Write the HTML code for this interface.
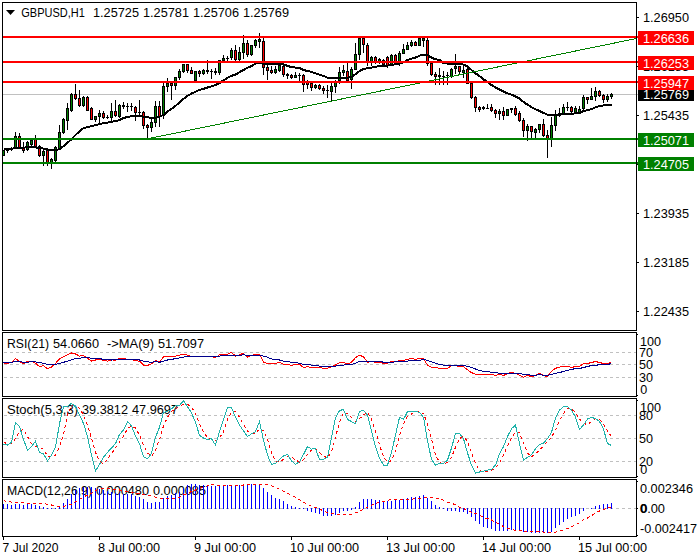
<!DOCTYPE html>
<html lang="en"><head><meta charset="utf-8"><title>GBPUSD,H1</title>
<style>html,body{margin:0;padding:0;background:#fff;}body{width:700px;height:560px;overflow:hidden;}svg{display:block;}text{font-family:"Liberation Sans",sans-serif;font-size:12.6px;fill:#000;}.w{fill:#fff;}</style></head><body>
<svg width="700" height="560" viewBox="0 0 700 560">
<rect width="700" height="560" fill="#fff"/>
<g shape-rendering="crispEdges">
<rect x="3" y="94" width="635" height="1" fill="#c0c0c0"/>
</g>
<g shape-rendering="crispEdges">
<rect x="3" y="150" width="1" height="6" fill="#000"/>
<rect x="2" y="150" width="3" height="6" fill="#000"/>
<rect x="3" y="151" width="1" height="4" fill="#008000"/>
<rect x="7" y="149" width="1" height="4" fill="#000"/>
<rect x="6" y="150" width="3" height="1" fill="#000"/>
<rect x="11" y="147" width="1" height="4" fill="#000"/>
<rect x="10" y="148" width="3" height="2" fill="#000"/>
<rect x="15" y="132" width="1" height="17" fill="#000"/>
<rect x="14" y="136" width="3" height="13" fill="#000"/>
<rect x="15" y="137" width="1" height="11" fill="#008000"/>
<rect x="19" y="133" width="1" height="16" fill="#000"/>
<rect x="18" y="136" width="3" height="12" fill="#000"/>
<rect x="19" y="137" width="1" height="10" fill="#ff0000"/>
<rect x="23" y="142" width="1" height="11" fill="#000"/>
<rect x="22" y="147" width="3" height="4" fill="#000"/>
<rect x="23" y="148" width="1" height="2" fill="#ff0000"/>
<rect x="27" y="141" width="1" height="10" fill="#000"/>
<rect x="26" y="142" width="3" height="8" fill="#000"/>
<rect x="27" y="143" width="1" height="6" fill="#008000"/>
<rect x="31" y="140" width="1" height="7" fill="#000"/>
<rect x="30" y="140" width="3" height="5" fill="#000"/>
<rect x="31" y="141" width="1" height="3" fill="#008000"/>
<rect x="35" y="135" width="1" height="13" fill="#000"/>
<rect x="34" y="139" width="3" height="9" fill="#000"/>
<rect x="35" y="140" width="1" height="7" fill="#ff0000"/>
<rect x="39" y="145" width="1" height="12" fill="#000"/>
<rect x="38" y="146" width="3" height="10" fill="#000"/>
<rect x="39" y="147" width="1" height="8" fill="#ff0000"/>
<rect x="43" y="150" width="1" height="16" fill="#000"/>
<rect x="42" y="151" width="3" height="5" fill="#000"/>
<rect x="43" y="152" width="1" height="3" fill="#008000"/>
<rect x="47" y="150" width="1" height="16" fill="#000"/>
<rect x="46" y="150" width="3" height="13" fill="#000"/>
<rect x="47" y="151" width="1" height="11" fill="#ff0000"/>
<rect x="51" y="158" width="1" height="11" fill="#000"/>
<rect x="50" y="159" width="3" height="4" fill="#000"/>
<rect x="51" y="160" width="1" height="2" fill="#008000"/>
<rect x="55" y="146" width="1" height="16" fill="#000"/>
<rect x="54" y="147" width="3" height="14" fill="#000"/>
<rect x="55" y="148" width="1" height="12" fill="#008000"/>
<rect x="59" y="125" width="1" height="24" fill="#000"/>
<rect x="58" y="132" width="3" height="17" fill="#000"/>
<rect x="59" y="133" width="1" height="15" fill="#008000"/>
<rect x="63" y="118" width="1" height="16" fill="#000"/>
<rect x="62" y="119" width="3" height="14" fill="#000"/>
<rect x="63" y="120" width="1" height="12" fill="#008000"/>
<rect x="67" y="103" width="1" height="27" fill="#000"/>
<rect x="66" y="108" width="3" height="13" fill="#000"/>
<rect x="67" y="109" width="1" height="11" fill="#008000"/>
<rect x="71" y="93" width="1" height="19" fill="#000"/>
<rect x="70" y="94" width="3" height="17" fill="#000"/>
<rect x="71" y="95" width="1" height="15" fill="#008000"/>
<rect x="75" y="84" width="1" height="16" fill="#000"/>
<rect x="74" y="94" width="3" height="5" fill="#000"/>
<rect x="75" y="95" width="1" height="3" fill="#ff0000"/>
<rect x="79" y="90" width="1" height="17" fill="#000"/>
<rect x="78" y="98" width="3" height="8" fill="#000"/>
<rect x="79" y="99" width="1" height="6" fill="#ff0000"/>
<rect x="83" y="96" width="1" height="11" fill="#000"/>
<rect x="82" y="97" width="3" height="9" fill="#000"/>
<rect x="83" y="98" width="1" height="7" fill="#008000"/>
<rect x="87" y="96" width="1" height="15" fill="#000"/>
<rect x="86" y="97" width="3" height="14" fill="#000"/>
<rect x="87" y="98" width="1" height="12" fill="#ff0000"/>
<rect x="91" y="107" width="1" height="13" fill="#000"/>
<rect x="90" y="108" width="3" height="12" fill="#000"/>
<rect x="91" y="109" width="1" height="10" fill="#ff0000"/>
<rect x="95" y="116" width="1" height="6" fill="#000"/>
<rect x="94" y="116" width="3" height="4" fill="#000"/>
<rect x="95" y="117" width="1" height="2" fill="#008000"/>
<rect x="99" y="110" width="1" height="14" fill="#000"/>
<rect x="98" y="113" width="3" height="4" fill="#000"/>
<rect x="99" y="114" width="1" height="2" fill="#008000"/>
<rect x="103" y="111" width="1" height="8" fill="#000"/>
<rect x="102" y="113" width="3" height="5" fill="#000"/>
<rect x="103" y="114" width="1" height="3" fill="#ff0000"/>
<rect x="107" y="115" width="1" height="4" fill="#000"/>
<rect x="106" y="117" width="3" height="1" fill="#000"/>
<rect x="111" y="103" width="1" height="18" fill="#000"/>
<rect x="110" y="111" width="3" height="7" fill="#000"/>
<rect x="111" y="112" width="1" height="5" fill="#008000"/>
<rect x="115" y="100" width="1" height="17" fill="#000"/>
<rect x="114" y="111" width="3" height="5" fill="#000"/>
<rect x="115" y="112" width="1" height="3" fill="#ff0000"/>
<rect x="119" y="104" width="1" height="14" fill="#000"/>
<rect x="118" y="105" width="3" height="12" fill="#000"/>
<rect x="119" y="106" width="1" height="10" fill="#008000"/>
<rect x="123" y="102" width="1" height="7" fill="#000"/>
<rect x="122" y="105" width="3" height="2" fill="#000"/>
<rect x="127" y="103" width="1" height="9" fill="#000"/>
<rect x="126" y="106" width="3" height="1" fill="#000"/>
<rect x="131" y="103" width="1" height="8" fill="#000"/>
<rect x="130" y="106" width="3" height="1" fill="#000"/>
<rect x="135" y="106" width="1" height="15" fill="#000"/>
<rect x="134" y="107" width="3" height="6" fill="#000"/>
<rect x="135" y="108" width="1" height="4" fill="#ff0000"/>
<rect x="139" y="100" width="1" height="16" fill="#000"/>
<rect x="138" y="112" width="3" height="1" fill="#000"/>
<rect x="143" y="111" width="1" height="18" fill="#000"/>
<rect x="142" y="112" width="3" height="14" fill="#000"/>
<rect x="143" y="113" width="1" height="12" fill="#ff0000"/>
<rect x="147" y="124" width="1" height="14" fill="#000"/>
<rect x="146" y="125" width="3" height="3" fill="#000"/>
<rect x="147" y="126" width="1" height="1" fill="#ff0000"/>
<rect x="151" y="119" width="1" height="13" fill="#000"/>
<rect x="150" y="122" width="3" height="6" fill="#000"/>
<rect x="151" y="123" width="1" height="4" fill="#008000"/>
<rect x="155" y="101" width="1" height="26" fill="#000"/>
<rect x="154" y="106" width="3" height="17" fill="#000"/>
<rect x="155" y="107" width="1" height="15" fill="#008000"/>
<rect x="159" y="101" width="1" height="26" fill="#000"/>
<rect x="158" y="106" width="3" height="11" fill="#000"/>
<rect x="159" y="107" width="1" height="9" fill="#ff0000"/>
<rect x="163" y="83" width="1" height="36" fill="#000"/>
<rect x="162" y="86" width="3" height="30" fill="#000"/>
<rect x="163" y="87" width="1" height="28" fill="#008000"/>
<rect x="167" y="78" width="1" height="14" fill="#000"/>
<rect x="166" y="83" width="3" height="4" fill="#000"/>
<rect x="167" y="84" width="1" height="2" fill="#008000"/>
<rect x="171" y="82" width="1" height="18" fill="#000"/>
<rect x="170" y="83" width="3" height="3" fill="#000"/>
<rect x="171" y="84" width="1" height="1" fill="#ff0000"/>
<rect x="175" y="77" width="1" height="13" fill="#000"/>
<rect x="174" y="77" width="3" height="9" fill="#000"/>
<rect x="175" y="78" width="1" height="7" fill="#008000"/>
<rect x="179" y="69" width="1" height="11" fill="#000"/>
<rect x="178" y="71" width="3" height="7" fill="#000"/>
<rect x="179" y="72" width="1" height="5" fill="#008000"/>
<rect x="183" y="64" width="1" height="9" fill="#000"/>
<rect x="182" y="64" width="3" height="8" fill="#000"/>
<rect x="183" y="65" width="1" height="6" fill="#008000"/>
<rect x="187" y="64" width="1" height="9" fill="#000"/>
<rect x="186" y="64" width="3" height="7" fill="#000"/>
<rect x="187" y="65" width="1" height="5" fill="#ff0000"/>
<rect x="191" y="67" width="1" height="7" fill="#000"/>
<rect x="190" y="70" width="3" height="4" fill="#000"/>
<rect x="191" y="71" width="1" height="2" fill="#ff0000"/>
<rect x="195" y="71" width="1" height="10" fill="#000"/>
<rect x="194" y="71" width="3" height="10" fill="#000"/>
<rect x="195" y="72" width="1" height="8" fill="#008000"/>
<rect x="199" y="70" width="1" height="7" fill="#000"/>
<rect x="198" y="71" width="3" height="3" fill="#000"/>
<rect x="199" y="72" width="1" height="1" fill="#ff0000"/>
<rect x="203" y="69" width="1" height="6" fill="#000"/>
<rect x="202" y="70" width="3" height="4" fill="#000"/>
<rect x="203" y="71" width="1" height="2" fill="#008000"/>
<rect x="207" y="60" width="1" height="14" fill="#000"/>
<rect x="206" y="70" width="3" height="2" fill="#000"/>
<rect x="211" y="69" width="1" height="10" fill="#000"/>
<rect x="210" y="71" width="3" height="1" fill="#000"/>
<rect x="215" y="68" width="1" height="7" fill="#000"/>
<rect x="214" y="71" width="3" height="2" fill="#000"/>
<rect x="219" y="60" width="1" height="15" fill="#000"/>
<rect x="218" y="60" width="3" height="13" fill="#000"/>
<rect x="219" y="61" width="1" height="11" fill="#008000"/>
<rect x="223" y="55" width="1" height="6" fill="#000"/>
<rect x="222" y="58" width="3" height="3" fill="#000"/>
<rect x="223" y="59" width="1" height="1" fill="#008000"/>
<rect x="227" y="56" width="1" height="5" fill="#000"/>
<rect x="226" y="58" width="3" height="1" fill="#000"/>
<rect x="231" y="48" width="1" height="12" fill="#000"/>
<rect x="230" y="50" width="3" height="8" fill="#000"/>
<rect x="231" y="51" width="1" height="6" fill="#008000"/>
<rect x="235" y="45" width="1" height="16" fill="#000"/>
<rect x="234" y="50" width="3" height="10" fill="#000"/>
<rect x="235" y="51" width="1" height="8" fill="#ff0000"/>
<rect x="239" y="47" width="1" height="14" fill="#000"/>
<rect x="238" y="52" width="3" height="8" fill="#000"/>
<rect x="239" y="53" width="1" height="6" fill="#008000"/>
<rect x="243" y="35" width="1" height="24" fill="#000"/>
<rect x="242" y="43" width="3" height="10" fill="#000"/>
<rect x="243" y="44" width="1" height="8" fill="#008000"/>
<rect x="247" y="40" width="1" height="17" fill="#000"/>
<rect x="246" y="43" width="3" height="12" fill="#000"/>
<rect x="247" y="44" width="1" height="10" fill="#ff0000"/>
<rect x="251" y="45" width="1" height="11" fill="#000"/>
<rect x="250" y="45" width="3" height="10" fill="#000"/>
<rect x="251" y="46" width="1" height="8" fill="#008000"/>
<rect x="255" y="39" width="1" height="9" fill="#000"/>
<rect x="254" y="40" width="3" height="6" fill="#000"/>
<rect x="255" y="41" width="1" height="4" fill="#008000"/>
<rect x="259" y="33" width="1" height="15" fill="#000"/>
<rect x="258" y="39" width="3" height="3" fill="#000"/>
<rect x="259" y="40" width="1" height="1" fill="#008000"/>
<rect x="263" y="38" width="1" height="37" fill="#000"/>
<rect x="262" y="41" width="3" height="27" fill="#000"/>
<rect x="263" y="42" width="1" height="25" fill="#ff0000"/>
<rect x="267" y="65" width="1" height="15" fill="#000"/>
<rect x="266" y="67" width="3" height="4" fill="#000"/>
<rect x="267" y="68" width="1" height="2" fill="#ff0000"/>
<rect x="271" y="66" width="1" height="8" fill="#000"/>
<rect x="270" y="70" width="3" height="3" fill="#000"/>
<rect x="271" y="71" width="1" height="1" fill="#ff0000"/>
<rect x="275" y="66" width="1" height="8" fill="#000"/>
<rect x="274" y="69" width="3" height="4" fill="#000"/>
<rect x="275" y="70" width="1" height="2" fill="#008000"/>
<rect x="279" y="64" width="1" height="8" fill="#000"/>
<rect x="278" y="65" width="3" height="6" fill="#000"/>
<rect x="279" y="66" width="1" height="4" fill="#008000"/>
<rect x="283" y="63" width="1" height="14" fill="#000"/>
<rect x="282" y="66" width="3" height="9" fill="#000"/>
<rect x="283" y="67" width="1" height="7" fill="#ff0000"/>
<rect x="287" y="73" width="1" height="6" fill="#000"/>
<rect x="286" y="74" width="3" height="2" fill="#000"/>
<rect x="291" y="74" width="1" height="5" fill="#000"/>
<rect x="290" y="75" width="3" height="3" fill="#000"/>
<rect x="291" y="76" width="1" height="1" fill="#ff0000"/>
<rect x="295" y="72" width="1" height="6" fill="#000"/>
<rect x="294" y="75" width="3" height="3" fill="#000"/>
<rect x="295" y="76" width="1" height="1" fill="#008000"/>
<rect x="299" y="73" width="1" height="8" fill="#000"/>
<rect x="298" y="75" width="3" height="1" fill="#000"/>
<rect x="303" y="74" width="1" height="18" fill="#000"/>
<rect x="302" y="75" width="3" height="10" fill="#000"/>
<rect x="303" y="76" width="1" height="8" fill="#ff0000"/>
<rect x="307" y="80" width="1" height="9" fill="#000"/>
<rect x="306" y="81" width="3" height="4" fill="#000"/>
<rect x="307" y="82" width="1" height="2" fill="#ff0000"/>
<rect x="311" y="82" width="1" height="9" fill="#000"/>
<rect x="310" y="83" width="3" height="5" fill="#000"/>
<rect x="311" y="84" width="1" height="3" fill="#ff0000"/>
<rect x="315" y="84" width="1" height="5" fill="#000"/>
<rect x="314" y="85" width="3" height="3" fill="#000"/>
<rect x="315" y="86" width="1" height="1" fill="#008000"/>
<rect x="319" y="84" width="1" height="6" fill="#000"/>
<rect x="318" y="85" width="3" height="4" fill="#000"/>
<rect x="319" y="86" width="1" height="2" fill="#ff0000"/>
<rect x="323" y="86" width="1" height="8" fill="#000"/>
<rect x="322" y="88" width="3" height="3" fill="#000"/>
<rect x="323" y="89" width="1" height="1" fill="#ff0000"/>
<rect x="327" y="85" width="1" height="13" fill="#000"/>
<rect x="326" y="90" width="3" height="1" fill="#000"/>
<rect x="331" y="83" width="1" height="18" fill="#000"/>
<rect x="330" y="86" width="3" height="6" fill="#000"/>
<rect x="331" y="87" width="1" height="4" fill="#008000"/>
<rect x="335" y="80" width="1" height="13" fill="#000"/>
<rect x="334" y="82" width="3" height="5" fill="#000"/>
<rect x="335" y="83" width="1" height="3" fill="#008000"/>
<rect x="339" y="67" width="1" height="17" fill="#000"/>
<rect x="338" y="72" width="3" height="9" fill="#000"/>
<rect x="339" y="73" width="1" height="7" fill="#008000"/>
<rect x="343" y="65" width="1" height="11" fill="#000"/>
<rect x="342" y="70" width="3" height="3" fill="#000"/>
<rect x="343" y="71" width="1" height="1" fill="#008000"/>
<rect x="347" y="63" width="1" height="19" fill="#000"/>
<rect x="346" y="71" width="3" height="10" fill="#000"/>
<rect x="347" y="72" width="1" height="8" fill="#ff0000"/>
<rect x="351" y="67" width="1" height="22" fill="#000"/>
<rect x="350" y="69" width="3" height="11" fill="#000"/>
<rect x="351" y="70" width="1" height="9" fill="#008000"/>
<rect x="355" y="43" width="1" height="27" fill="#000"/>
<rect x="354" y="54" width="3" height="16" fill="#000"/>
<rect x="355" y="55" width="1" height="14" fill="#008000"/>
<rect x="359" y="38" width="1" height="22" fill="#000"/>
<rect x="358" y="38" width="3" height="17" fill="#000"/>
<rect x="359" y="39" width="1" height="15" fill="#008000"/>
<rect x="363" y="38" width="1" height="15" fill="#000"/>
<rect x="362" y="38" width="3" height="7" fill="#000"/>
<rect x="363" y="39" width="1" height="5" fill="#ff0000"/>
<rect x="367" y="43" width="1" height="23" fill="#000"/>
<rect x="366" y="45" width="3" height="17" fill="#000"/>
<rect x="367" y="46" width="1" height="15" fill="#ff0000"/>
<rect x="371" y="56" width="1" height="10" fill="#000"/>
<rect x="370" y="57" width="3" height="5" fill="#000"/>
<rect x="371" y="58" width="1" height="3" fill="#008000"/>
<rect x="375" y="56" width="1" height="8" fill="#000"/>
<rect x="374" y="57" width="3" height="5" fill="#000"/>
<rect x="375" y="58" width="1" height="3" fill="#ff0000"/>
<rect x="379" y="58" width="1" height="6" fill="#000"/>
<rect x="378" y="59" width="3" height="3" fill="#000"/>
<rect x="379" y="60" width="1" height="1" fill="#008000"/>
<rect x="383" y="59" width="1" height="7" fill="#000"/>
<rect x="382" y="60" width="3" height="5" fill="#000"/>
<rect x="383" y="61" width="1" height="3" fill="#ff0000"/>
<rect x="387" y="56" width="1" height="12" fill="#000"/>
<rect x="386" y="57" width="3" height="9" fill="#000"/>
<rect x="387" y="58" width="1" height="7" fill="#ff0000"/>
<rect x="391" y="54" width="1" height="12" fill="#000"/>
<rect x="390" y="55" width="3" height="10" fill="#000"/>
<rect x="391" y="56" width="1" height="8" fill="#008000"/>
<rect x="395" y="54" width="1" height="11" fill="#000"/>
<rect x="394" y="55" width="3" height="9" fill="#000"/>
<rect x="395" y="56" width="1" height="7" fill="#ff0000"/>
<rect x="399" y="51" width="1" height="15" fill="#000"/>
<rect x="398" y="53" width="3" height="11" fill="#000"/>
<rect x="399" y="54" width="1" height="9" fill="#008000"/>
<rect x="403" y="44" width="1" height="10" fill="#000"/>
<rect x="402" y="49" width="3" height="5" fill="#000"/>
<rect x="403" y="50" width="1" height="3" fill="#008000"/>
<rect x="407" y="42" width="1" height="8" fill="#000"/>
<rect x="406" y="45" width="3" height="5" fill="#000"/>
<rect x="407" y="46" width="1" height="3" fill="#008000"/>
<rect x="411" y="40" width="1" height="7" fill="#000"/>
<rect x="410" y="42" width="3" height="4" fill="#000"/>
<rect x="411" y="43" width="1" height="2" fill="#008000"/>
<rect x="415" y="41" width="1" height="5" fill="#000"/>
<rect x="414" y="42" width="3" height="4" fill="#000"/>
<rect x="415" y="43" width="1" height="2" fill="#ff0000"/>
<rect x="419" y="38" width="1" height="8" fill="#000"/>
<rect x="418" y="38" width="3" height="8" fill="#000"/>
<rect x="419" y="39" width="1" height="6" fill="#008000"/>
<rect x="423" y="38" width="1" height="9" fill="#000"/>
<rect x="422" y="38" width="3" height="3" fill="#000"/>
<rect x="423" y="39" width="1" height="1" fill="#008000"/>
<rect x="427" y="38" width="1" height="28" fill="#000"/>
<rect x="426" y="40" width="3" height="24" fill="#000"/>
<rect x="427" y="41" width="1" height="22" fill="#ff0000"/>
<rect x="431" y="62" width="1" height="14" fill="#000"/>
<rect x="430" y="63" width="3" height="12" fill="#000"/>
<rect x="431" y="64" width="1" height="10" fill="#ff0000"/>
<rect x="435" y="72" width="1" height="13" fill="#000"/>
<rect x="434" y="74" width="3" height="3" fill="#000"/>
<rect x="435" y="75" width="1" height="1" fill="#ff0000"/>
<rect x="439" y="68" width="1" height="17" fill="#000"/>
<rect x="438" y="75" width="3" height="2" fill="#000"/>
<rect x="443" y="71" width="1" height="14" fill="#000"/>
<rect x="442" y="76" width="3" height="1" fill="#000"/>
<rect x="447" y="72" width="1" height="13" fill="#000"/>
<rect x="446" y="75" width="3" height="1" fill="#000"/>
<rect x="451" y="68" width="1" height="10" fill="#000"/>
<rect x="450" y="69" width="3" height="8" fill="#000"/>
<rect x="451" y="70" width="1" height="6" fill="#008000"/>
<rect x="455" y="54" width="1" height="20" fill="#000"/>
<rect x="454" y="66" width="3" height="3" fill="#000"/>
<rect x="455" y="67" width="1" height="1" fill="#008000"/>
<rect x="459" y="66" width="1" height="8" fill="#000"/>
<rect x="458" y="66" width="3" height="6" fill="#000"/>
<rect x="459" y="67" width="1" height="4" fill="#ff0000"/>
<rect x="463" y="66" width="1" height="12" fill="#000"/>
<rect x="462" y="70" width="3" height="3" fill="#000"/>
<rect x="463" y="71" width="1" height="1" fill="#008000"/>
<rect x="467" y="68" width="1" height="16" fill="#000"/>
<rect x="466" y="69" width="3" height="15" fill="#000"/>
<rect x="467" y="70" width="1" height="13" fill="#ff0000"/>
<rect x="471" y="83" width="1" height="16" fill="#000"/>
<rect x="470" y="83" width="3" height="15" fill="#000"/>
<rect x="471" y="84" width="1" height="13" fill="#ff0000"/>
<rect x="475" y="96" width="1" height="16" fill="#000"/>
<rect x="474" y="97" width="3" height="11" fill="#000"/>
<rect x="475" y="98" width="1" height="9" fill="#ff0000"/>
<rect x="479" y="106" width="1" height="6" fill="#000"/>
<rect x="478" y="107" width="3" height="3" fill="#000"/>
<rect x="479" y="108" width="1" height="1" fill="#ff0000"/>
<rect x="483" y="106" width="1" height="4" fill="#000"/>
<rect x="482" y="107" width="3" height="2" fill="#000"/>
<rect x="487" y="104" width="1" height="5" fill="#000"/>
<rect x="486" y="108" width="3" height="1" fill="#000"/>
<rect x="491" y="104" width="1" height="8" fill="#000"/>
<rect x="490" y="107" width="3" height="4" fill="#000"/>
<rect x="491" y="108" width="1" height="2" fill="#ff0000"/>
<rect x="495" y="109" width="1" height="9" fill="#000"/>
<rect x="494" y="110" width="3" height="4" fill="#000"/>
<rect x="495" y="111" width="1" height="2" fill="#ff0000"/>
<rect x="499" y="109" width="1" height="11" fill="#000"/>
<rect x="498" y="111" width="3" height="3" fill="#000"/>
<rect x="499" y="112" width="1" height="1" fill="#008000"/>
<rect x="503" y="107" width="1" height="13" fill="#000"/>
<rect x="502" y="111" width="3" height="5" fill="#000"/>
<rect x="503" y="112" width="1" height="3" fill="#ff0000"/>
<rect x="507" y="109" width="1" height="7" fill="#000"/>
<rect x="506" y="109" width="3" height="7" fill="#000"/>
<rect x="507" y="110" width="1" height="5" fill="#008000"/>
<rect x="511" y="108" width="1" height="5" fill="#000"/>
<rect x="510" y="108" width="3" height="2" fill="#000"/>
<rect x="515" y="106" width="1" height="10" fill="#000"/>
<rect x="514" y="108" width="3" height="7" fill="#000"/>
<rect x="515" y="109" width="1" height="5" fill="#ff0000"/>
<rect x="519" y="111" width="1" height="11" fill="#000"/>
<rect x="518" y="113" width="3" height="8" fill="#000"/>
<rect x="519" y="114" width="1" height="6" fill="#ff0000"/>
<rect x="523" y="118" width="1" height="19" fill="#000"/>
<rect x="522" y="120" width="3" height="11" fill="#000"/>
<rect x="523" y="121" width="1" height="9" fill="#ff0000"/>
<rect x="527" y="124" width="1" height="17" fill="#000"/>
<rect x="526" y="126" width="3" height="5" fill="#000"/>
<rect x="527" y="127" width="1" height="3" fill="#008000"/>
<rect x="531" y="126" width="1" height="12" fill="#000"/>
<rect x="530" y="126" width="3" height="6" fill="#000"/>
<rect x="531" y="127" width="1" height="4" fill="#ff0000"/>
<rect x="535" y="128" width="1" height="10" fill="#000"/>
<rect x="534" y="129" width="3" height="4" fill="#000"/>
<rect x="535" y="130" width="1" height="2" fill="#008000"/>
<rect x="539" y="124" width="1" height="9" fill="#000"/>
<rect x="538" y="124" width="3" height="6" fill="#000"/>
<rect x="539" y="125" width="1" height="4" fill="#008000"/>
<rect x="543" y="119" width="1" height="18" fill="#000"/>
<rect x="542" y="124" width="3" height="12" fill="#000"/>
<rect x="543" y="125" width="1" height="10" fill="#ff0000"/>
<rect x="547" y="130" width="1" height="28" fill="#000"/>
<rect x="546" y="135" width="3" height="4" fill="#000"/>
<rect x="547" y="136" width="1" height="2" fill="#ff0000"/>
<rect x="551" y="117" width="1" height="30" fill="#000"/>
<rect x="550" y="125" width="3" height="14" fill="#000"/>
<rect x="551" y="126" width="1" height="12" fill="#008000"/>
<rect x="555" y="110" width="1" height="21" fill="#000"/>
<rect x="554" y="115" width="3" height="11" fill="#000"/>
<rect x="555" y="116" width="1" height="9" fill="#008000"/>
<rect x="559" y="108" width="1" height="9" fill="#000"/>
<rect x="558" y="113" width="3" height="3" fill="#000"/>
<rect x="559" y="114" width="1" height="1" fill="#008000"/>
<rect x="563" y="104" width="1" height="11" fill="#000"/>
<rect x="562" y="107" width="3" height="7" fill="#000"/>
<rect x="563" y="108" width="1" height="5" fill="#008000"/>
<rect x="567" y="102" width="1" height="9" fill="#000"/>
<rect x="566" y="107" width="3" height="1" fill="#000"/>
<rect x="571" y="106" width="1" height="8" fill="#000"/>
<rect x="570" y="107" width="3" height="5" fill="#000"/>
<rect x="571" y="108" width="1" height="3" fill="#ff0000"/>
<rect x="575" y="106" width="1" height="8" fill="#000"/>
<rect x="574" y="108" width="3" height="5" fill="#000"/>
<rect x="575" y="109" width="1" height="3" fill="#008000"/>
<rect x="579" y="106" width="1" height="8" fill="#000"/>
<rect x="578" y="109" width="3" height="4" fill="#000"/>
<rect x="579" y="110" width="1" height="2" fill="#008000"/>
<rect x="583" y="95" width="1" height="16" fill="#000"/>
<rect x="582" y="97" width="3" height="12" fill="#000"/>
<rect x="583" y="98" width="1" height="10" fill="#008000"/>
<rect x="587" y="97" width="1" height="7" fill="#000"/>
<rect x="586" y="97" width="3" height="3" fill="#000"/>
<rect x="587" y="98" width="1" height="1" fill="#ff0000"/>
<rect x="591" y="88" width="1" height="12" fill="#000"/>
<rect x="590" y="96" width="3" height="4" fill="#000"/>
<rect x="591" y="97" width="1" height="2" fill="#008000"/>
<rect x="595" y="87" width="1" height="14" fill="#000"/>
<rect x="594" y="91" width="3" height="6" fill="#000"/>
<rect x="595" y="92" width="1" height="4" fill="#008000"/>
<rect x="599" y="90" width="1" height="7" fill="#000"/>
<rect x="598" y="91" width="3" height="5" fill="#000"/>
<rect x="599" y="92" width="1" height="3" fill="#ff0000"/>
<rect x="603" y="94" width="1" height="9" fill="#000"/>
<rect x="602" y="95" width="3" height="5" fill="#000"/>
<rect x="603" y="96" width="1" height="3" fill="#ff0000"/>
<rect x="607" y="94" width="1" height="8" fill="#000"/>
<rect x="606" y="96" width="3" height="4" fill="#000"/>
<rect x="607" y="97" width="1" height="2" fill="#008000"/>
<rect x="611" y="93" width="1" height="6" fill="#000"/>
<rect x="610" y="94" width="3" height="3" fill="#000"/>
<rect x="611" y="95" width="1" height="1" fill="#008000"/>
</g>
<polyline points="3.5,149 11.5,149 15.5,147.6 35.5,147.4 39.5,148 43.5,148.6 47.5,149.5 51.5,150 55.5,150 59.5,149.2 63.5,146.2 67.5,142.8 71.5,139.2 75.5,135 79.5,131.2 83.5,128.2 87.5,127 91.5,126.2 95.5,125.2 99.5,124.2 103.5,123.2 107.5,122.6 111.5,121.8 115.5,121.1 119.5,120 123.5,118 127.5,117 131.5,116.1 135.5,115.6 139.5,116 143.5,116.6 147.5,117.4 151.5,117.8 155.5,117.6 159.5,116.7 163.5,115 167.5,111.4 171.5,108.8 175.5,105.8 179.5,102.7 183.5,98.8 187.5,95.8 191.5,93.6 195.5,91.7 199.5,90 203.5,88.9 207.5,87.5 211.5,86.4 215.5,85 219.5,83.1 223.5,80.3 227.5,77.9 231.5,75.8 235.5,74.6 239.5,72.1 243.5,70 247.5,67.8 251.5,66 255.5,63.6 259.5,62.8 263.5,63.6 279.5,63.6 283.5,64.3 287.5,66 291.5,67 295.5,67.6 299.5,68 303.5,70 307.5,71 311.5,71.9 315.5,73.3 319.5,74.7 323.5,76 327.5,77.6 331.5,78 343.5,78 347.5,77.6 351.5,76.7 355.5,74.3 359.5,71 363.5,69 367.5,68.1 371.5,67.6 375.5,66.7 379.5,66.1 383.5,65.9 387.5,65.6 391.5,65 395.5,64.3 399.5,63.6 403.5,62.4 407.5,60 411.5,58.6 415.5,57.6 419.5,55.7 423.5,54.7 427.5,55.3 431.5,57.6 435.5,59.3 439.5,60 443.5,63 447.5,63.6 459.5,63.6 463.5,64.7 467.5,66.4 471.5,70 475.5,73.3 479.5,76 483.5,79.3 487.5,82 491.5,85 495.5,87.4 499.5,89.4 503.5,91.4 507.5,93.4 511.5,94.7 515.5,96.4 519.5,98.6 523.5,101.9 527.5,104.7 531.5,107.1 535.5,109.3 539.5,111 543.5,112.9 547.5,114.7 551.5,114.7 559.5,114.7 563.5,114 571.5,114 575.5,113.1 579.5,113.1 583.5,111.1 587.5,110 591.5,109.3 595.5,107.1 599.5,106 603.5,105.4 607.5,105 611.5,105" fill="none" stroke="#000" stroke-width="2" stroke-linejoin="round" shape-rendering="crispEdges"/>
<g shape-rendering="crispEdges">
<path d="M148.5 138.6L636.5 38.5" stroke="#008000" stroke-width="1" fill="none"/>
<rect x="3" y="36" width="635" height="2" fill="#ff0000"/>
<rect x="3" y="61" width="635" height="2" fill="#ff0000"/>
<rect x="3" y="81" width="635" height="2" fill="#ff0000"/>
<rect x="3" y="138" width="635" height="2" fill="#008000"/>
<rect x="3" y="162" width="635" height="2" fill="#008000"/>
</g>
<path d="M4 352.5H636" stroke="#c0c0c0" stroke-width="1" stroke-dasharray="3 3" fill="none" shape-rendering="crispEdges"/>
<path d="M4 364.5H636" stroke="#c0c0c0" stroke-width="1" stroke-dasharray="3 3" fill="none" shape-rendering="crispEdges"/>
<path d="M4 377.5H636" stroke="#c0c0c0" stroke-width="1" stroke-dasharray="3 3" fill="none" shape-rendering="crispEdges"/>
<path d="M4 415.5H636" stroke="#c0c0c0" stroke-width="1" stroke-dasharray="3 3" fill="none" shape-rendering="crispEdges"/>
<path d="M4 438.5H636" stroke="#c0c0c0" stroke-width="1" stroke-dasharray="3 3" fill="none" shape-rendering="crispEdges"/>
<path d="M4 461.5H636" stroke="#c0c0c0" stroke-width="1" stroke-dasharray="3 3" fill="none" shape-rendering="crispEdges"/>
<path d="M4 508.5H636" stroke="#c0c0c0" stroke-width="1" stroke-dasharray="3 3" fill="none" shape-rendering="crispEdges"/>
<text x="7" y="348" textLength="42" lengthAdjust="spacingAndGlyphs">RSI(21)</text>
<text x="53" y="348" textLength="46" lengthAdjust="spacingAndGlyphs">54.0660</text>
<text x="107" y="348" textLength="47" lengthAdjust="spacingAndGlyphs">-&gt;MA(9)</text>
<text x="158" y="348" textLength="46" lengthAdjust="spacingAndGlyphs">51.7097</text>
<text x="7" y="414" textLength="71" lengthAdjust="spacingAndGlyphs">Stoch(5,3,3)</text>
<text x="82" y="414" textLength="46" lengthAdjust="spacingAndGlyphs">39.3812</text>
<text x="132" y="414" textLength="46" lengthAdjust="spacingAndGlyphs">47.9697</text>
<text x="7" y="495" textLength="85" lengthAdjust="spacingAndGlyphs">MACD(12,26,9)</text>
<text x="96" y="495" textLength="53" lengthAdjust="spacingAndGlyphs">0.000480</text>
<text x="153" y="495" textLength="53" lengthAdjust="spacingAndGlyphs">0.000085</text>
<polyline points="3.5,363.3 7.5,363.3 11.5,362.3 15.5,358.3 19.5,361.9 23.5,363.7 27.5,361.4 31.5,361.1 35.5,363.3 39.5,366.6 43.5,365.7 47.5,368.7 51.5,367.1 55.5,363.3 59.5,359 63.5,356.9 67.5,354.7 71.5,353 75.5,354 79.5,356.1 83.5,355.4 87.5,358.3 91.5,361.1 95.5,360 99.5,359.4 103.5,360.4 107.5,361.1 111.5,359.7 115.5,360.4 119.5,358.6 123.5,358.6 127.5,359.4 131.5,359.4 135.5,360.9 139.5,361.1 143.5,365.1 147.5,365.4 151.5,363.7 155.5,360.4 159.5,361.9 163.5,356.9 167.5,356.1 171.5,356.9 175.5,356.1 179.5,355.1 183.5,354.3 187.5,355.1 191.5,356.6 195.5,356.6 199.5,356.6 203.5,356.6 207.5,356.6 211.5,356.6 215.5,357.6 219.5,354.7 223.5,354.3 227.5,354.3 231.5,352.3 235.5,356.1 239.5,354.7 243.5,353.3 247.5,357.1 251.5,355.4 255.5,354.3 259.5,354.3 263.5,362.3 267.5,363.4 271.5,363.4 275.5,363.4 279.5,362.3 283.5,364.3 287.5,364.3 291.5,365.4 295.5,364.3 299.5,364.3 303.5,367.6 307.5,366.6 311.5,367.6 315.5,367.6 319.5,367.6 323.5,368.3 327.5,368.3 331.5,366.6 335.5,365.1 339.5,362.6 343.5,362.6 347.5,364 351.5,362.3 355.5,357.6 359.5,355.1 363.5,356.9 367.5,362.3 371.5,361.1 375.5,362.3 379.5,362.3 383.5,363.3 387.5,363.3 391.5,361.4 395.5,361.9 399.5,360.4 403.5,360.4 407.5,359.4 411.5,358.3 415.5,359.4 419.5,358.3 423.5,358.6 427.5,365.1 431.5,367.1 435.5,367.6 439.5,368.3 443.5,368.3 447.5,368.3 451.5,365.7 455.5,365.4 459.5,366.6 463.5,366.6 467.5,369.7 471.5,372.6 475.5,374.4 479.5,374.4 483.5,374.4 487.5,374.4 491.5,374.4 495.5,375.4 499.5,374.4 503.5,375.4 507.5,373.7 511.5,372.3 515.5,373.3 519.5,375.1 523.5,377.3 527.5,375.4 531.5,376.6 535.5,375.4 539.5,373.3 543.5,375.4 547.5,376.6 551.5,371.4 555.5,368.3 559.5,367.1 563.5,366.3 567.5,366.3 571.5,367.5 575.5,366.5 579.5,366.5 583.5,363.5 587.5,363.5 591.5,362.5 595.5,361.5 599.5,362.5 603.5,363.5 607.5,363.5 611.5,362.5" fill="none" stroke="#ff0000" stroke-width="1" shape-rendering="crispEdges"/>
<polyline points="3.5,362.6 7.5,362.5 11.5,362.3 15.5,361.4 19.5,361.4 23.5,362.3 27.5,362.3 31.5,361.4 35.5,361.9 39.5,362.6 43.5,363.3 47.5,364.3 51.5,364.4 55.5,364.3 59.5,363.3 63.5,362.3 67.5,361.1 71.5,359.7 75.5,358.6 79.5,358.3 83.5,357.6 87.5,357.3 91.5,358.3 95.5,358.6 99.5,358.6 103.5,359.4 107.5,359.7 111.5,360 115.5,359.7 119.5,359.4 123.5,359.4 127.5,359.4 131.5,359.4 135.5,359.4 139.5,360 143.5,361.1 147.5,361.9 151.5,362.3 155.5,361.4 159.5,362.3 163.5,361.1 167.5,360 171.5,359.4 175.5,358.6 179.5,358 183.5,357.1 187.5,356.6 191.5,356.6 195.5,356.6 199.5,356.6 203.5,356.6 207.5,356.6 211.5,356.6 215.5,356.6 219.5,356.1 223.5,355.4 227.5,355.4 231.5,355.4 235.5,355.4 239.5,355.4 243.5,354.7 247.5,355.4 251.5,355.4 255.5,355.4 259.5,355.4 263.5,356.1 267.5,357.1 271.5,359 275.5,359.4 279.5,360 283.5,361.1 287.5,361.4 291.5,362.3 295.5,362.6 299.5,363.3 303.5,364.3 307.5,364.3 311.5,365.1 315.5,365.1 319.5,366.1 323.5,366.1 327.5,366.6 331.5,366.6 335.5,366.1 339.5,365.4 343.5,365.1 347.5,364.7 351.5,364.3 355.5,363.3 359.5,361.4 363.5,361.1 367.5,361.1 371.5,361.1 375.5,361.1 379.5,361.1 383.5,362.3 387.5,362.3 391.5,362.3 395.5,361.9 399.5,361.1 403.5,361.1 407.5,361.1 411.5,360.4 415.5,360.4 419.5,360.4 423.5,359.4 427.5,360.4 431.5,361.9 435.5,363.3 439.5,364.3 443.5,365.1 447.5,365.1 451.5,365.4 455.5,365.4 459.5,365.4 463.5,365.4 467.5,366.3 471.5,367.6 475.5,369 479.5,370.4 483.5,371.4 487.5,371.4 491.5,372.3 495.5,372.6 499.5,373.3 503.5,373.3 507.5,373.3 511.5,373.3 515.5,373.3 519.5,373.3 523.5,374.4 527.5,374.4 531.5,375.4 535.5,375.4 539.5,374.4 543.5,375.4 547.5,375.4 551.5,374.4 555.5,373.3 559.5,372.6 563.5,371.4 567.5,370.4 571.5,369.5 575.5,368.5 579.5,368.5 583.5,367.5 587.5,366.5 591.5,365.5 595.5,365.5 599.5,364.5 603.5,364.5 607.5,364.5 611.5,363.5" fill="none" stroke="#00008b" stroke-width="1" shape-rendering="crispEdges"/>
<polyline points="3.5,442.6 7.5,443.4 11.5,443.4 15.5,438.7 19.5,431.1 23.5,429.1 27.5,436.6 31.5,443.7 35.5,446.3 39.5,447.3 43.5,449.4 47.5,455.9 51.5,456.6 55.5,455.1 59.5,446.6 63.5,435.1 67.5,413.7 71.5,405.9 75.5,405.4 79.5,408.3 83.5,414.9 87.5,424.9 91.5,438 95.5,452.3 99.5,460.9 103.5,464 107.5,458.7 111.5,453.7 115.5,448 119.5,442 123.5,436.6 127.5,428.7 131.5,425.9 135.5,428 139.5,435.1 143.5,445.1 147.5,453 151.5,456.3 155.5,450.1 159.5,439.4 163.5,425.9 167.5,417.3 171.5,411.6 175.5,408.7 179.5,406.3 183.5,404.4 187.5,404.4 191.5,406.9 195.5,414 199.5,423.7 203.5,432.3 207.5,437.3 211.5,438.7 215.5,440.9 219.5,438 223.5,431.6 227.5,419.4 231.5,412.3 235.5,411.6 239.5,417.3 243.5,424.4 247.5,430.9 251.5,434 255.5,433.7 259.5,428.7 263.5,430.9 267.5,438.7 271.5,453 275.5,460.9 279.5,462 283.5,459.4 287.5,456.6 291.5,457.3 295.5,459.7 299.5,462.3 303.5,459.7 307.5,454.4 311.5,450.1 315.5,448.3 319.5,452.6 323.5,455.9 327.5,458 331.5,451.6 335.5,437.3 339.5,422 343.5,413 347.5,413.4 351.5,417.3 355.5,421.6 359.5,418.7 363.5,415.1 367.5,412.3 371.5,419.4 375.5,430.9 379.5,445.1 383.5,456.6 387.5,462.3 391.5,460.6 395.5,450.9 399.5,435.1 403.5,423.7 407.5,416.3 411.5,414 415.5,411.6 419.5,411.6 423.5,413.7 427.5,423.7 431.5,439.4 435.5,455.1 439.5,462.3 443.5,464 447.5,462.3 451.5,457.3 455.5,447.3 459.5,438.7 463.5,436.3 467.5,441.6 471.5,452.3 475.5,463.7 479.5,470.1 483.5,472.3 487.5,471.1 491.5,470.1 495.5,468.3 499.5,463 503.5,455.1 507.5,445.9 511.5,438 515.5,431.6 519.5,433 523.5,443 527.5,453 531.5,456.9 535.5,453.7 539.5,450.1 543.5,445.9 547.5,441.6 551.5,437.3 555.5,430.1 559.5,420.9 563.5,413.4 567.5,408.7 571.5,409 575.5,412.5 579.5,419 583.5,423.5 587.5,424.5 591.5,421.5 595.5,418.5 599.5,419.5 603.5,424 607.5,431 611.5,436.5" fill="none" stroke="#ff0000" stroke-width="1" stroke-dasharray="3 3" shape-rendering="crispEdges"/>
<polyline points="3.5,444 7.5,445.1 11.5,442.3 15.5,422.6 19.5,426.6 23.5,439.4 27.5,450.1 31.5,446.6 35.5,441.3 39.5,452.6 43.5,454 47.5,460.9 51.5,455.1 55.5,447.3 59.5,423.7 63.5,406.9 67.5,406.3 71.5,403.4 75.5,406.9 79.5,415.1 83.5,423.4 87.5,436.6 91.5,455.1 95.5,471.1 99.5,464.4 103.5,457.3 107.5,452.3 111.5,448 115.5,443.7 119.5,434.4 123.5,430.1 127.5,421.6 131.5,425.9 135.5,435.9 139.5,443.7 143.5,456.6 147.5,458.7 151.5,453.4 155.5,437.3 159.5,427.3 163.5,412.3 167.5,411.6 171.5,408.7 175.5,405.4 179.5,405.4 183.5,400.9 187.5,406.6 191.5,413 195.5,422.3 199.5,435.4 203.5,438 207.5,439.4 211.5,438.7 215.5,445.1 219.5,431.6 223.5,419.4 227.5,407.3 231.5,407.3 235.5,417.3 239.5,425.1 243.5,430.9 247.5,436.6 251.5,433.7 255.5,431.6 259.5,421.6 263.5,440.1 267.5,455.1 271.5,464.4 275.5,463.4 279.5,459.4 283.5,455.9 287.5,454.4 291.5,460.9 295.5,464.4 299.5,461.6 303.5,454.4 307.5,446.6 311.5,449.1 315.5,448.7 319.5,459.4 323.5,459.4 327.5,457.3 331.5,437.3 335.5,418 339.5,410.6 343.5,409.4 347.5,419.4 351.5,421.6 355.5,423.7 359.5,411.6 363.5,410.1 367.5,415.1 371.5,430.9 375.5,446.6 379.5,458 383.5,465.1 387.5,465.1 391.5,452.3 395.5,435.1 399.5,417.3 403.5,419.4 407.5,411.6 411.5,411.6 415.5,411.6 419.5,412.3 423.5,417.3 427.5,440.9 431.5,459.4 435.5,465.1 439.5,463.4 443.5,463.4 447.5,460.1 451.5,448 455.5,433.4 459.5,433.4 463.5,438.7 467.5,453 471.5,465.1 475.5,473 479.5,472 483.5,471.1 487.5,470.1 491.5,469.4 495.5,465.1 499.5,453.7 503.5,446.6 507.5,436.6 511.5,428.7 515.5,425.1 519.5,443.7 523.5,460.1 527.5,457.3 531.5,454.9 535.5,448.7 539.5,444.4 543.5,443 547.5,438.7 551.5,432.3 555.5,418 559.5,410.1 563.5,406.6 567.5,406.6 571.5,410 575.5,417 579.5,429.5 583.5,425 587.5,419 591.5,417.5 595.5,418.5 599.5,421.5 603.5,429 607.5,443.5 611.5,445.5" fill="none" stroke="#20b2aa" stroke-width="1" shape-rendering="crispEdges"/>
<g shape-rendering="crispEdges">
<rect x="3" y="504" width="1" height="5" fill="#0000ff"/>
<rect x="7" y="504" width="1" height="5" fill="#0000ff"/>
<rect x="11" y="505" width="1" height="4" fill="#0000ff"/>
<rect x="15" y="504" width="1" height="5" fill="#0000ff"/>
<rect x="19" y="504" width="1" height="5" fill="#0000ff"/>
<rect x="23" y="505" width="1" height="4" fill="#0000ff"/>
<rect x="27" y="504" width="1" height="5" fill="#0000ff"/>
<rect x="31" y="504" width="1" height="5" fill="#0000ff"/>
<rect x="35" y="505" width="1" height="4" fill="#0000ff"/>
<rect x="39" y="506" width="1" height="3" fill="#0000ff"/>
<rect x="43" y="507" width="1" height="2" fill="#0000ff"/>
<rect x="47" y="508" width="1" height="1" fill="#0000ff"/>
<rect x="51" y="508" width="1" height="1" fill="#0000ff"/>
<rect x="55" y="508" width="1" height="1" fill="#0000ff"/>
<rect x="59" y="507" width="1" height="2" fill="#0000ff"/>
<rect x="63" y="503" width="1" height="6" fill="#0000ff"/>
<rect x="67" y="499" width="1" height="10" fill="#0000ff"/>
<rect x="71" y="494" width="1" height="15" fill="#0000ff"/>
<rect x="75" y="490" width="1" height="19" fill="#0000ff"/>
<rect x="79" y="488" width="1" height="21" fill="#0000ff"/>
<rect x="83" y="487" width="1" height="22" fill="#0000ff"/>
<rect x="87" y="487" width="1" height="22" fill="#0000ff"/>
<rect x="91" y="487" width="1" height="22" fill="#0000ff"/>
<rect x="95" y="488" width="1" height="21" fill="#0000ff"/>
<rect x="99" y="489" width="1" height="20" fill="#0000ff"/>
<rect x="103" y="490" width="1" height="19" fill="#0000ff"/>
<rect x="107" y="491" width="1" height="18" fill="#0000ff"/>
<rect x="111" y="492" width="1" height="17" fill="#0000ff"/>
<rect x="115" y="493" width="1" height="16" fill="#0000ff"/>
<rect x="119" y="493" width="1" height="16" fill="#0000ff"/>
<rect x="123" y="494" width="1" height="15" fill="#0000ff"/>
<rect x="127" y="494" width="1" height="15" fill="#0000ff"/>
<rect x="131" y="494" width="1" height="15" fill="#0000ff"/>
<rect x="135" y="496" width="1" height="13" fill="#0000ff"/>
<rect x="139" y="497" width="1" height="12" fill="#0000ff"/>
<rect x="143" y="499" width="1" height="10" fill="#0000ff"/>
<rect x="147" y="502" width="1" height="7" fill="#0000ff"/>
<rect x="151" y="503" width="1" height="6" fill="#0000ff"/>
<rect x="155" y="502" width="1" height="7" fill="#0000ff"/>
<rect x="159" y="502" width="1" height="7" fill="#0000ff"/>
<rect x="163" y="498" width="1" height="11" fill="#0000ff"/>
<rect x="167" y="496" width="1" height="13" fill="#0000ff"/>
<rect x="171" y="495" width="1" height="14" fill="#0000ff"/>
<rect x="175" y="493" width="1" height="16" fill="#0000ff"/>
<rect x="179" y="492" width="1" height="17" fill="#0000ff"/>
<rect x="183" y="488" width="1" height="21" fill="#0000ff"/>
<rect x="187" y="485" width="1" height="24" fill="#0000ff"/>
<rect x="191" y="484" width="1" height="25" fill="#0000ff"/>
<rect x="195" y="484" width="1" height="25" fill="#0000ff"/>
<rect x="199" y="485" width="1" height="24" fill="#0000ff"/>
<rect x="203" y="485" width="1" height="24" fill="#0000ff"/>
<rect x="207" y="485" width="1" height="24" fill="#0000ff"/>
<rect x="211" y="486" width="1" height="23" fill="#0000ff"/>
<rect x="215" y="486" width="1" height="23" fill="#0000ff"/>
<rect x="219" y="486" width="1" height="23" fill="#0000ff"/>
<rect x="223" y="485" width="1" height="24" fill="#0000ff"/>
<rect x="227" y="485" width="1" height="24" fill="#0000ff"/>
<rect x="231" y="485" width="1" height="24" fill="#0000ff"/>
<rect x="235" y="485" width="1" height="24" fill="#0000ff"/>
<rect x="239" y="485" width="1" height="24" fill="#0000ff"/>
<rect x="243" y="484" width="1" height="25" fill="#0000ff"/>
<rect x="247" y="484" width="1" height="25" fill="#0000ff"/>
<rect x="251" y="484" width="1" height="25" fill="#0000ff"/>
<rect x="255" y="484" width="1" height="25" fill="#0000ff"/>
<rect x="259" y="484" width="1" height="25" fill="#0000ff"/>
<rect x="263" y="488" width="1" height="21" fill="#0000ff"/>
<rect x="267" y="492" width="1" height="17" fill="#0000ff"/>
<rect x="271" y="495" width="1" height="14" fill="#0000ff"/>
<rect x="275" y="498" width="1" height="11" fill="#0000ff"/>
<rect x="279" y="499" width="1" height="10" fill="#0000ff"/>
<rect x="283" y="501" width="1" height="8" fill="#0000ff"/>
<rect x="287" y="504" width="1" height="5" fill="#0000ff"/>
<rect x="291" y="506" width="1" height="3" fill="#0000ff"/>
<rect x="295" y="507" width="1" height="2" fill="#0000ff"/>
<rect x="299" y="508" width="1" height="1" fill="#0000ff"/>
<rect x="303" y="508" width="1" height="1" fill="#0000ff"/>
<rect x="307" y="508" width="1" height="3" fill="#0000ff"/>
<rect x="311" y="508" width="1" height="4" fill="#0000ff"/>
<rect x="315" y="508" width="1" height="5" fill="#0000ff"/>
<rect x="319" y="508" width="1" height="6" fill="#0000ff"/>
<rect x="323" y="508" width="1" height="8" fill="#0000ff"/>
<rect x="327" y="508" width="1" height="8" fill="#0000ff"/>
<rect x="331" y="508" width="1" height="8" fill="#0000ff"/>
<rect x="335" y="508" width="1" height="7" fill="#0000ff"/>
<rect x="339" y="508" width="1" height="5" fill="#0000ff"/>
<rect x="343" y="508" width="1" height="3" fill="#0000ff"/>
<rect x="347" y="508" width="1" height="3" fill="#0000ff"/>
<rect x="351" y="508" width="1" height="2" fill="#0000ff"/>
<rect x="355" y="507" width="1" height="2" fill="#0000ff"/>
<rect x="359" y="502" width="1" height="7" fill="#0000ff"/>
<rect x="363" y="499" width="1" height="10" fill="#0000ff"/>
<rect x="367" y="499" width="1" height="10" fill="#0000ff"/>
<rect x="371" y="499" width="1" height="10" fill="#0000ff"/>
<rect x="375" y="500" width="1" height="9" fill="#0000ff"/>
<rect x="379" y="500" width="1" height="9" fill="#0000ff"/>
<rect x="383" y="501" width="1" height="8" fill="#0000ff"/>
<rect x="387" y="501" width="1" height="8" fill="#0000ff"/>
<rect x="391" y="501" width="1" height="8" fill="#0000ff"/>
<rect x="395" y="500" width="1" height="9" fill="#0000ff"/>
<rect x="399" y="500" width="1" height="9" fill="#0000ff"/>
<rect x="403" y="499" width="1" height="10" fill="#0000ff"/>
<rect x="407" y="498" width="1" height="11" fill="#0000ff"/>
<rect x="411" y="497" width="1" height="12" fill="#0000ff"/>
<rect x="415" y="497" width="1" height="12" fill="#0000ff"/>
<rect x="419" y="496" width="1" height="13" fill="#0000ff"/>
<rect x="423" y="495" width="1" height="14" fill="#0000ff"/>
<rect x="427" y="498" width="1" height="11" fill="#0000ff"/>
<rect x="431" y="501" width="1" height="8" fill="#0000ff"/>
<rect x="435" y="505" width="1" height="4" fill="#0000ff"/>
<rect x="439" y="507" width="1" height="2" fill="#0000ff"/>
<rect x="443" y="508" width="1" height="1" fill="#0000ff"/>
<rect x="447" y="508" width="1" height="3" fill="#0000ff"/>
<rect x="451" y="508" width="1" height="3" fill="#0000ff"/>
<rect x="455" y="508" width="1" height="3" fill="#0000ff"/>
<rect x="459" y="508" width="1" height="4" fill="#0000ff"/>
<rect x="463" y="508" width="1" height="4" fill="#0000ff"/>
<rect x="467" y="508" width="1" height="6" fill="#0000ff"/>
<rect x="471" y="508" width="1" height="9" fill="#0000ff"/>
<rect x="475" y="508" width="1" height="13" fill="#0000ff"/>
<rect x="479" y="508" width="1" height="16" fill="#0000ff"/>
<rect x="483" y="508" width="1" height="19" fill="#0000ff"/>
<rect x="487" y="508" width="1" height="20" fill="#0000ff"/>
<rect x="491" y="508" width="1" height="21" fill="#0000ff"/>
<rect x="495" y="508" width="1" height="23" fill="#0000ff"/>
<rect x="499" y="508" width="1" height="23" fill="#0000ff"/>
<rect x="503" y="508" width="1" height="23" fill="#0000ff"/>
<rect x="507" y="508" width="1" height="23" fill="#0000ff"/>
<rect x="511" y="508" width="1" height="22" fill="#0000ff"/>
<rect x="515" y="508" width="1" height="23" fill="#0000ff"/>
<rect x="519" y="508" width="1" height="23" fill="#0000ff"/>
<rect x="523" y="508" width="1" height="24" fill="#0000ff"/>
<rect x="527" y="508" width="1" height="24" fill="#0000ff"/>
<rect x="531" y="508" width="1" height="25" fill="#0000ff"/>
<rect x="535" y="508" width="1" height="25" fill="#0000ff"/>
<rect x="539" y="508" width="1" height="25" fill="#0000ff"/>
<rect x="543" y="508" width="1" height="25" fill="#0000ff"/>
<rect x="547" y="508" width="1" height="25" fill="#0000ff"/>
<rect x="551" y="508" width="1" height="24" fill="#0000ff"/>
<rect x="555" y="508" width="1" height="20" fill="#0000ff"/>
<rect x="559" y="508" width="1" height="17" fill="#0000ff"/>
<rect x="563" y="508" width="1" height="14" fill="#0000ff"/>
<rect x="567" y="508" width="1" height="11" fill="#0000ff"/>
<rect x="571" y="508" width="1" height="9" fill="#0000ff"/>
<rect x="575" y="508" width="1" height="8" fill="#0000ff"/>
<rect x="579" y="508" width="1" height="6" fill="#0000ff"/>
<rect x="583" y="508" width="1" height="3" fill="#0000ff"/>
<rect x="591" y="508" width="1" height="1" fill="#0000ff"/>
<rect x="595" y="506" width="1" height="3" fill="#0000ff"/>
<rect x="599" y="505" width="1" height="4" fill="#0000ff"/>
<rect x="603" y="504" width="1" height="5" fill="#0000ff"/>
<rect x="607" y="504" width="1" height="5" fill="#0000ff"/>
<rect x="611" y="503" width="1" height="6" fill="#0000ff"/>
</g>
<polyline points="3.5,500.7 7.5,501.4 11.5,502.1 15.5,502.5 19.5,502.9 23.5,503 27.5,503.1 31.5,503.1 35.5,503.1 39.5,503.3 43.5,503.6 47.5,504.3 51.5,505 55.5,505.7 59.5,506.4 63.5,506.4 67.5,505 71.5,504 75.5,501.7 79.5,499.3 83.5,497.1 87.5,495 91.5,493.1 95.5,490.6 99.5,489.3 103.5,488.6 107.5,488.5 111.5,488.9 115.5,489.5 119.5,490 123.5,490.7 127.5,491.4 131.5,492.2 135.5,493.1 139.5,493.7 143.5,494.5 147.5,495.4 151.5,496.2 155.5,497.1 159.5,497.9 163.5,498.6 167.5,498.9 171.5,498.6 175.5,497.9 179.5,497.1 183.5,495 187.5,493.6 191.5,491.4 195.5,490 199.5,488.5 203.5,487.1 207.5,485.7 211.5,484.8 215.5,485 219.5,485 223.5,485 227.5,485 231.5,485 235.5,485 239.5,485 243.5,485 247.5,484.4 251.5,484.3 255.5,484.3 259.5,484.3 263.5,484.6 267.5,485 271.5,485.7 275.5,487.4 279.5,489.3 283.5,491.1 287.5,493.1 291.5,495.4 295.5,497.4 299.5,499.7 303.5,502.1 307.5,504.3 311.5,506.4 315.5,507.4 319.5,509.3 323.5,510.7 327.5,512.6 331.5,513.6 335.5,514.3 339.5,514.6 343.5,514.6 347.5,514.6 351.5,514.3 355.5,512.9 359.5,511.1 363.5,509.3 367.5,507.1 371.5,505.4 375.5,503.6 379.5,502.1 383.5,501.4 387.5,500.3 391.5,499.3 395.5,499.3 399.5,499.3 403.5,499.3 407.5,499.3 411.5,499.3 415.5,498.6 419.5,498.3 423.5,497.4 427.5,497.4 431.5,497.4 435.5,498.3 439.5,498.6 443.5,500.3 447.5,502.1 451.5,503.1 455.5,505 459.5,507.1 463.5,508.6 467.5,510.3 471.5,512.1 475.5,513.6 479.5,515 483.5,517.4 487.5,518.6 491.5,520 495.5,522.6 499.5,523.6 503.5,526.9 507.5,528.6 511.5,529.3 515.5,530.3 519.5,530.3 523.5,531.1 527.5,531.4 531.5,531.4 535.5,531.4 539.5,531.1 543.5,532.1 547.5,532.6 551.5,532.6 555.5,532.1 559.5,530.7 563.5,530 567.5,528.6 571.5,526.5 575.5,524.8 579.5,522.7 583.5,519.8 587.5,518 591.5,515.8 595.5,513 599.5,511 603.5,509.7 607.5,507.7 611.5,507.5" fill="none" stroke="#ff0000" stroke-width="1" stroke-dasharray="3 3" shape-rendering="crispEdges"/>
<g shape-rendering="crispEdges" fill="#000">
<rect x="2" y="2" width="635" height="1" fill="#000"/>
<rect x="2" y="330" width="635" height="1" fill="#000"/>
<rect x="2" y="2" width="1" height="329" fill="#000"/>
<rect x="636" y="2" width="1" height="329" fill="#000"/>
<rect x="2" y="332" width="635" height="1" fill="#000"/>
<rect x="2" y="396" width="635" height="1" fill="#000"/>
<rect x="2" y="332" width="1" height="65" fill="#000"/>
<rect x="636" y="332" width="1" height="65" fill="#000"/>
<rect x="2" y="398" width="635" height="1" fill="#000"/>
<rect x="2" y="477" width="635" height="1" fill="#000"/>
<rect x="2" y="398" width="1" height="80" fill="#000"/>
<rect x="636" y="398" width="1" height="80" fill="#000"/>
<rect x="2" y="479" width="635" height="1" fill="#000"/>
<rect x="2" y="536" width="635" height="1" fill="#000"/>
<rect x="2" y="479" width="1" height="58" fill="#000"/>
<rect x="636" y="479" width="1" height="58" fill="#000"/>
<rect x="637" y="17" width="2" height="1" fill="#000"/>
<rect x="637" y="66" width="2" height="1" fill="#000"/>
<rect x="637" y="115" width="2" height="1" fill="#000"/>
<rect x="637" y="164" width="2" height="1" fill="#000"/>
<rect x="637" y="213" width="2" height="1" fill="#000"/>
<rect x="637" y="262" width="2" height="1" fill="#000"/>
<rect x="637" y="311" width="2" height="1" fill="#000"/>
<rect x="637" y="334" width="1" height="1" fill="#000"/>
<rect x="637" y="395" width="1" height="1" fill="#000"/>
<rect x="637" y="400" width="1" height="1" fill="#000"/>
<rect x="637" y="476" width="1" height="1" fill="#000"/>
<rect x="637" y="481" width="1" height="1" fill="#000"/>
<rect x="637" y="508" width="1" height="1" fill="#000"/>
<rect x="637" y="535" width="1" height="1" fill="#000"/>
<rect x="3" y="537" width="1" height="3" fill="#000"/>
<rect x="99" y="537" width="1" height="3" fill="#000"/>
<rect x="195" y="537" width="1" height="3" fill="#000"/>
<rect x="291" y="537" width="1" height="3" fill="#000"/>
<rect x="387" y="537" width="1" height="3" fill="#000"/>
<rect x="483" y="537" width="1" height="3" fill="#000"/>
<rect x="579" y="537" width="1" height="3" fill="#000"/>
</g>
<path d="M6 10h9l-4.5 5z" fill="#000"/>
<text x="21.3" y="17" textLength="63.5" lengthAdjust="spacingAndGlyphs">GBPUSD,H1</text>
<text x="93" y="17" textLength="46" lengthAdjust="spacingAndGlyphs">1.25725</text>
<text x="143" y="17" textLength="46" lengthAdjust="spacingAndGlyphs">1.25781</text>
<text x="193" y="17" textLength="46" lengthAdjust="spacingAndGlyphs">1.25706</text>
<text x="243" y="17" textLength="46" lengthAdjust="spacingAndGlyphs">1.25769</text>
<text x="643" y="22.2" textLength="46" lengthAdjust="spacingAndGlyphs">1.26950</text>
<text x="643" y="71.2" textLength="46" lengthAdjust="spacingAndGlyphs">1.26185</text>
<text x="643" y="120.2" textLength="46" lengthAdjust="spacingAndGlyphs">1.25435</text>
<text x="643" y="169.2" textLength="46" lengthAdjust="spacingAndGlyphs">1.24685</text>
<text x="643" y="218.2" textLength="46" lengthAdjust="spacingAndGlyphs">1.23935</text>
<text x="643" y="267.2" textLength="46" lengthAdjust="spacingAndGlyphs">1.23185</text>
<text x="643" y="316.2" textLength="46" lengthAdjust="spacingAndGlyphs">1.22435</text>
<rect x="638" y="87" width="56" height="14" fill="#000" shape-rendering="crispEdges"/>
<text x="643" y="99" textLength="46" lengthAdjust="spacingAndGlyphs" class="w">1.25769</text>
<rect x="638" y="31" width="56" height="14" fill="#ff0000" shape-rendering="crispEdges"/>
<text x="643" y="43.1" textLength="46" lengthAdjust="spacingAndGlyphs" class="w">1.26636</text>
<rect x="638" y="56" width="56" height="14" fill="#ff0000" shape-rendering="crispEdges"/>
<text x="643" y="68.1" textLength="46" lengthAdjust="spacingAndGlyphs" class="w">1.26253</text>
<rect x="638" y="76" width="56" height="14" fill="#ff0000" shape-rendering="crispEdges"/>
<text x="643" y="88.1" textLength="46" lengthAdjust="spacingAndGlyphs" class="w">1.25947</text>
<rect x="638" y="133" width="56" height="14" fill="#008000" shape-rendering="crispEdges"/>
<text x="643" y="145.1" textLength="46" lengthAdjust="spacingAndGlyphs" class="w">1.25071</text>
<rect x="638" y="157" width="56" height="14" fill="#008000" shape-rendering="crispEdges"/>
<text x="643" y="169.1" textLength="46" lengthAdjust="spacingAndGlyphs" class="w">1.24705</text>
<text x="640" y="346.3" textLength="21" lengthAdjust="spacingAndGlyphs">100</text>
<text x="639" y="357.3" textLength="14" lengthAdjust="spacingAndGlyphs">70</text>
<text x="639" y="369.3" textLength="14" lengthAdjust="spacingAndGlyphs">50</text>
<text x="639" y="382.3" textLength="14" lengthAdjust="spacingAndGlyphs">30</text>
<text x="640.3" y="393.6" textLength="7" lengthAdjust="spacingAndGlyphs">0</text>
<text x="640" y="412.3" textLength="21" lengthAdjust="spacingAndGlyphs">100</text>
<text x="639" y="420.3" textLength="14" lengthAdjust="spacingAndGlyphs">80</text>
<text x="639" y="443.3" textLength="14" lengthAdjust="spacingAndGlyphs">50</text>
<text x="639" y="466.3" textLength="14" lengthAdjust="spacingAndGlyphs">20</text>
<text x="640.3" y="474" textLength="7" lengthAdjust="spacingAndGlyphs">0</text>
<text x="640" y="493.3" textLength="53" lengthAdjust="spacingAndGlyphs">0.002346</text>
<text x="640" y="513.3" textLength="7.5" lengthAdjust="spacingAndGlyphs" style="font-weight:bold">0</text>
<text x="640" y="513.3" textLength="25" lengthAdjust="spacingAndGlyphs">0.00</text>
<text x="640" y="533.3" textLength="57" lengthAdjust="spacingAndGlyphs">-0.002417</text>
<text x="2.6" y="552.3" textLength="56" lengthAdjust="spacingAndGlyphs">7 Jul 2020</text>
<text x="98" y="552.3" textLength="62" lengthAdjust="spacingAndGlyphs">8 Jul 00:00</text>
<text x="194" y="552.3" textLength="62" lengthAdjust="spacingAndGlyphs">9 Jul 00:00</text>
<text x="290" y="552.3" textLength="69" lengthAdjust="spacingAndGlyphs">10 Jul 00:00</text>
<text x="386" y="552.3" textLength="69" lengthAdjust="spacingAndGlyphs">13 Jul 00:00</text>
<text x="482" y="552.3" textLength="69" lengthAdjust="spacingAndGlyphs">14 Jul 00:00</text>
<text x="578" y="552.3" textLength="69" lengthAdjust="spacingAndGlyphs">15 Jul 00:00</text>
</svg></body></html>
